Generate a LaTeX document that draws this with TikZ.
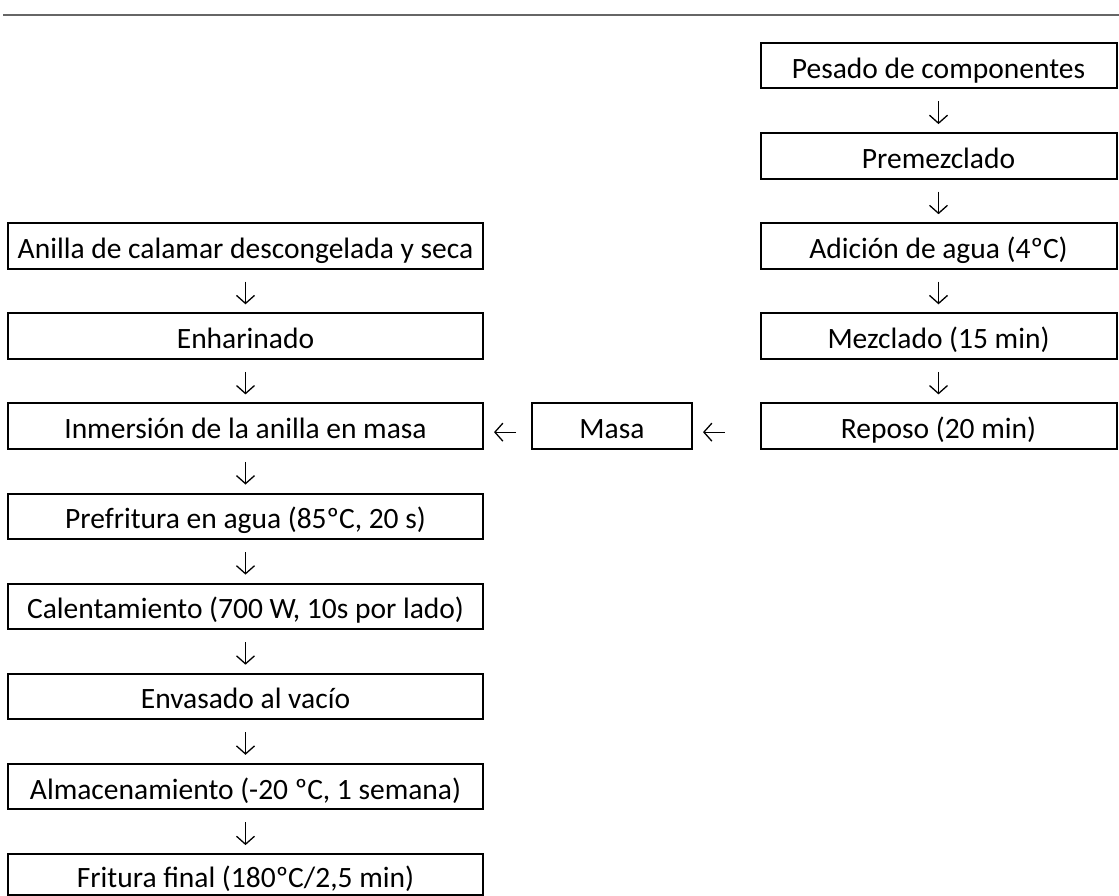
\documentclass[tikz,border=0pt]{standalone}
\usepackage{fontspec}
\setmainfont{Carlito}
\usetikzlibrary{arrows.meta}
\begin{document}
\begin{tikzpicture}[x=1pt,y=-1pt,
  box/.style={draw=black, line width=2pt, minimum height=45.5pt, inner sep=0pt,
              text height=25pt, text depth=0pt, font=\fontsize{29.5}{34}\selectfont},
  lbox/.style={box, minimum width=475pt},
  rbox/.style={box, minimum width=356pt},
  flow/.style={line width=1.3pt, -{Straight Barb[length=8pt,width=18pt]}},
  down/.style={flow, shorten <=12pt, shorten >=8pt},
  rule/.style={line width=2pt, black!60}
]
\useasboundingbox (0,0) rectangle (1119,896);
\coordinate (ruleL) at (3,14.7);
\coordinate (ruleR) at (1119,14.7);
\draw[rule] (ruleL) -- (ruleR);

% right column
\node[rbox] (pes) at (938.5,65.75) {Pesado de componentes};
\node[rbox] (pre) at (938.5,155.85) {Premezclado};
\node[rbox] (adi) at (938.5,245.95) {Adición de agua (4ºC)};
\node[rbox] (mez) at (938.5,336.05) {Mezclado (15 min)};
\node[rbox] (rep) at (938.5,426.15) {Reposo (20 min)};

% middle
\node[box, minimum width=160pt] (mas) at (612,426.15) {Masa};

% left column
\node[lbox] (ani) at (245.5,245.95) {Anilla de calamar descongelada y seca};
\node[lbox] (enh) at (245.5,336.05) {Enharinado};
\node[lbox] (inm) at (245.5,426.15) {Inmersión de la anilla en masa};
\node[lbox] (prf) at (245.5,516.25) {Prefritura en agua (85ºC, 20 s)};
\node[lbox] (cal) at (245.5,606.35) {Calentamiento (700 W, 10s por lado)};
\node[lbox] (env) at (245.5,696.45) {Envasado al vacío};
\node[lbox] (alm) at (245.5,786.55) {Almacenamiento (-20 ºC, 1 semana)};
\node[lbox, minimum height=41pt] (fri) at (245.5,874.6) {Fritura final (180ºC/2,5 min)};

% vertical connectors
\draw[down] (pes) -- (pre);
\draw[down] (pre) -- (adi);
\draw[down] (adi) -- (mez);
\draw[down] (mez) -- (rep);
\draw[down] (ani) -- (enh);
\draw[down] (enh) -- (inm);
\draw[down] (inm) -- (prf);
\draw[down] (prf) -- (cal);
\draw[down] (cal) -- (env);
\draw[down] (env) -- (alm);
\draw[down] (alm) -- (fri);

% horizontal connectors
\draw[flow, shorten <=35pt, shorten >=10pt] ([yshift=-6pt]rep.west) -- ([yshift=-6pt]mas.east);
\draw[flow, shorten <=15pt, shorten >=10pt] ([yshift=-6pt]mas.west) -- ([yshift=-6pt]inm.east);
\end{tikzpicture}
\end{document}
